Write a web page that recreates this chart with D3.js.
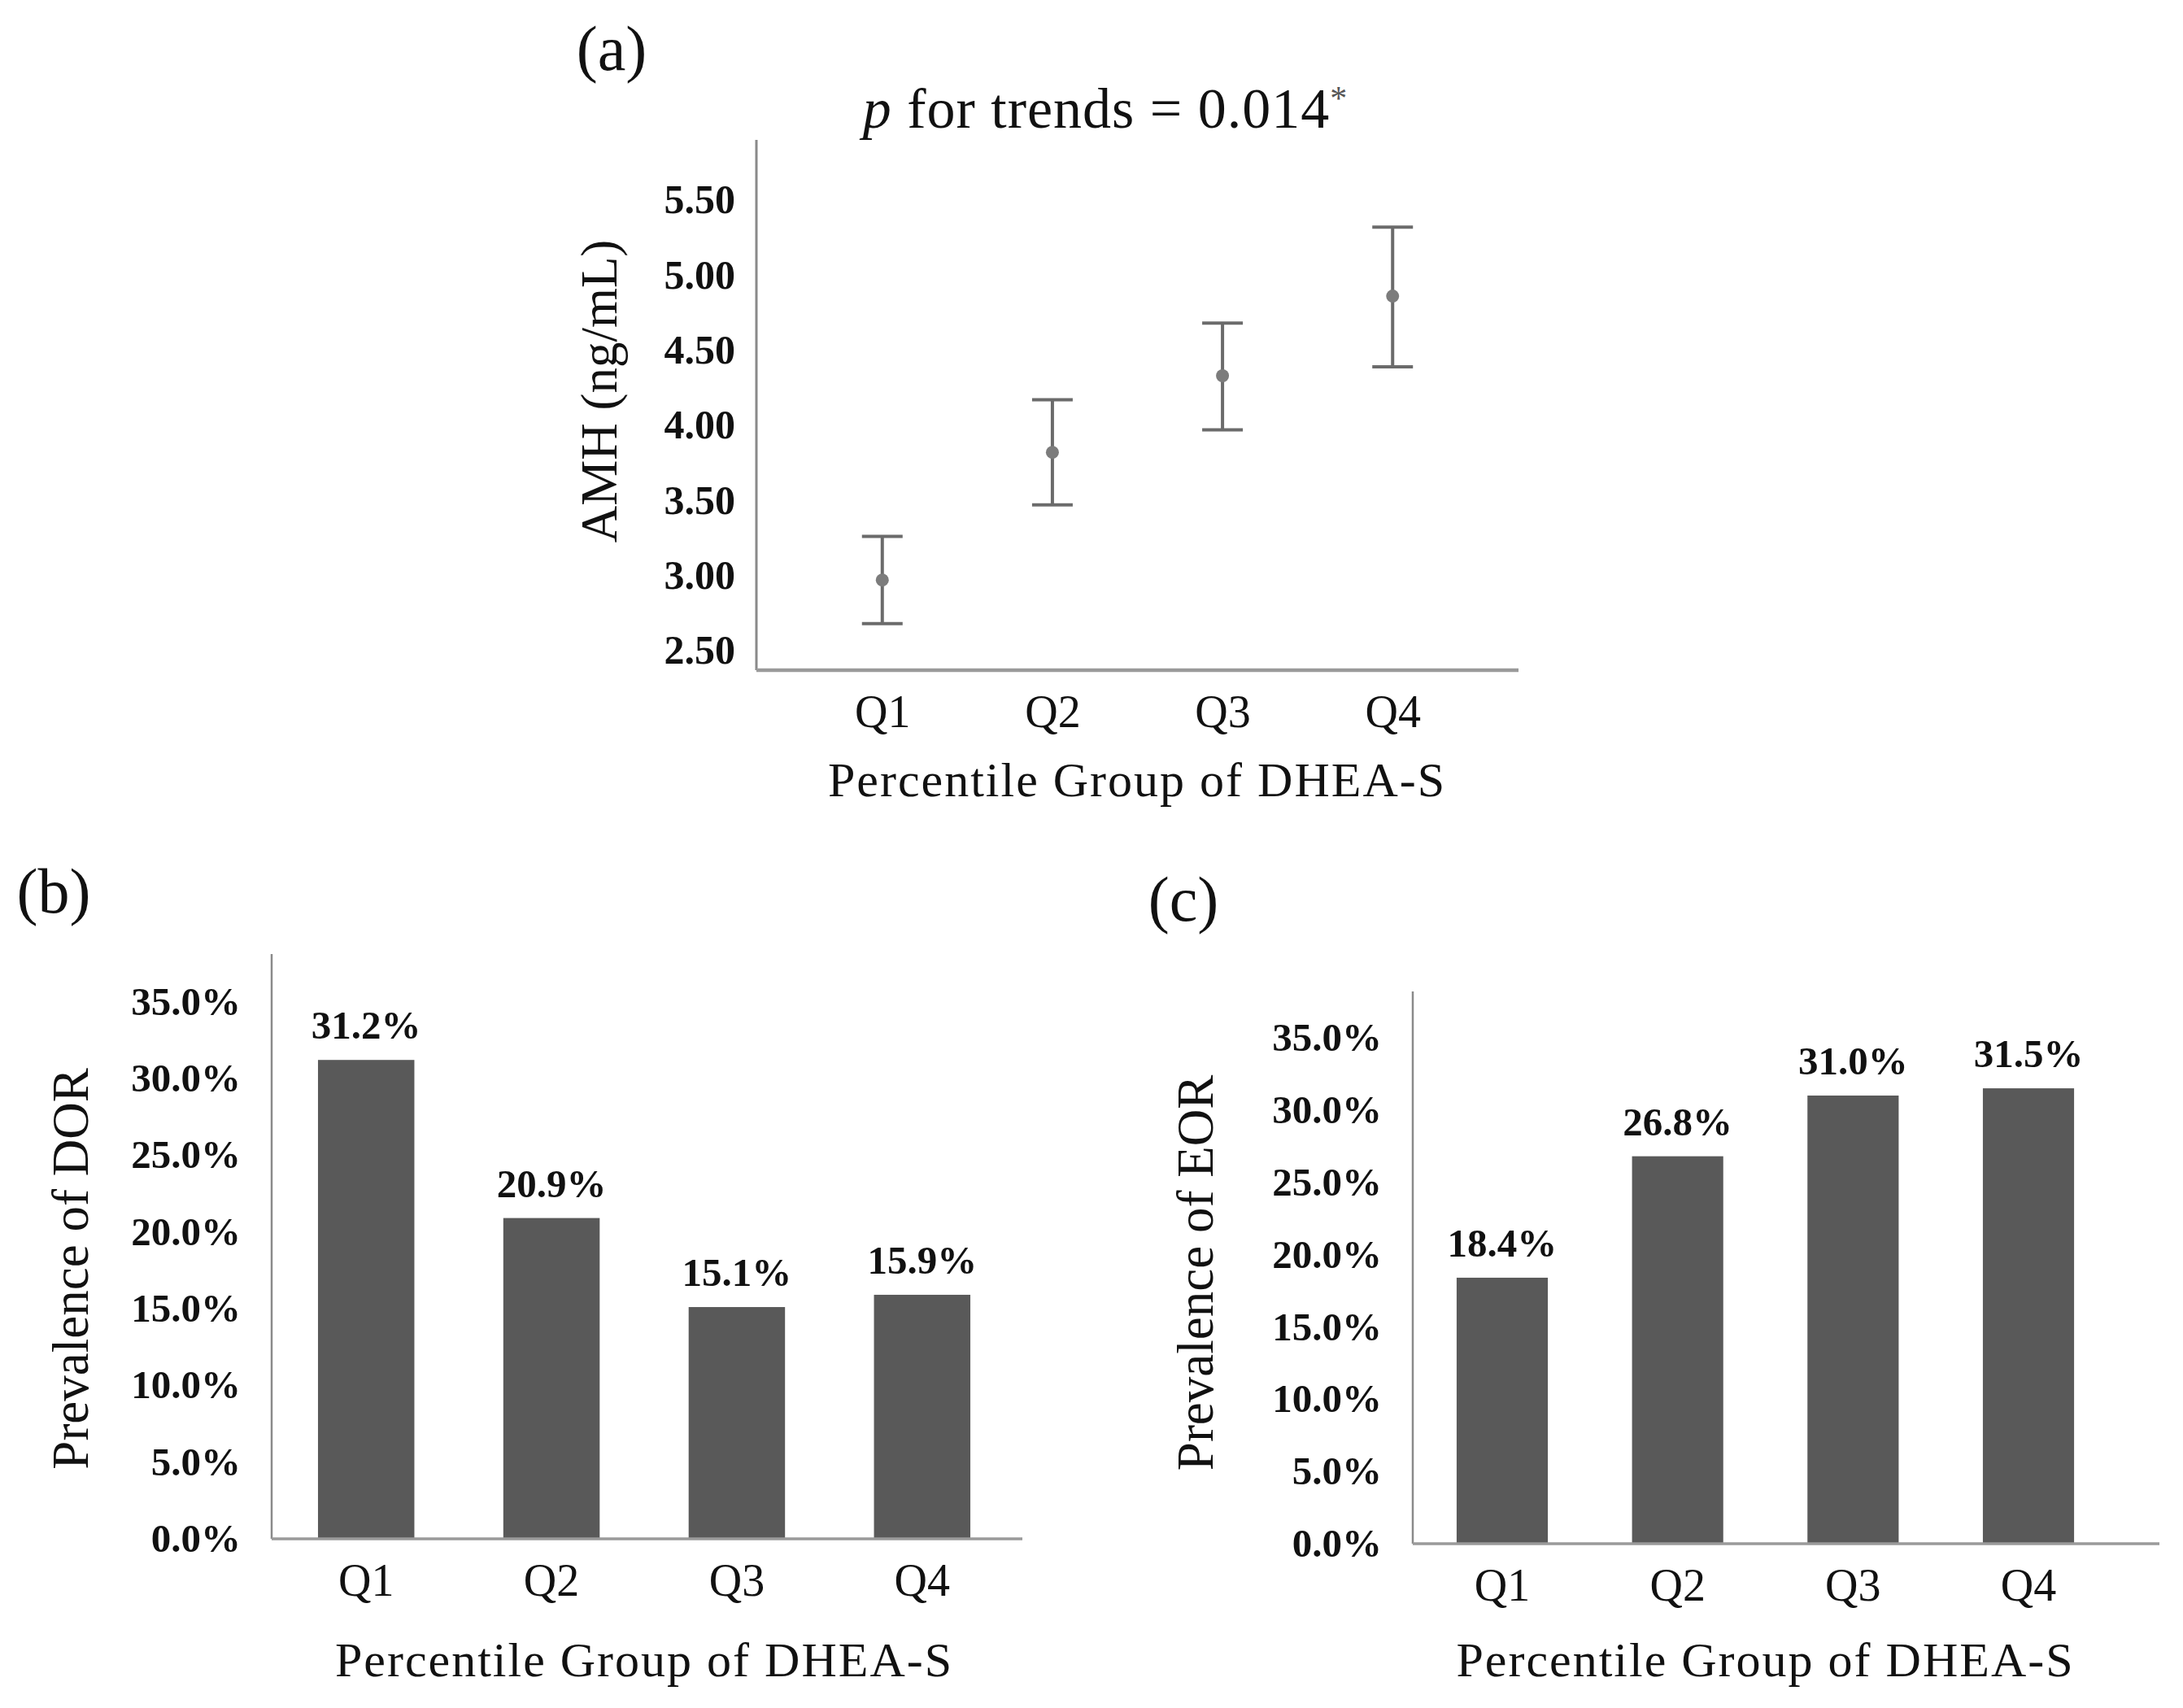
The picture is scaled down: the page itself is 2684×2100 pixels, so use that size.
<!DOCTYPE html>
<html>
<head>
<meta charset="utf-8">
<script src="https://cdn.jsdelivr.net/npm/d3@7"></script>
<style>
  body { margin: 0; background: #fff; }
  svg text { font-family: "Liberation Serif", "Times New Roman", serif; fill: #111; }
</style>
</head>
<body>
<svg id="fig" width="2684" height="2100"></svg>
<script>
/** chart data */
const groups = ["Q1", "Q2", "Q3", "Q4"];

// (a) AMH mean with error bars
const amhMean  = [2.97, 3.82, 4.33, 4.86];
const amhUpper = [3.26, 4.17, 4.68, 5.32];
const amhLower = [2.68, 3.47, 3.97, 4.39];
const amhTicks = [2.5, 3.0, 3.5, 4.0, 4.5, 5.0, 5.5];

// (b) DOR prevalence, (c) EOR prevalence (%)
const dorValues = [31.2, 20.9, 15.1, 15.9];
const eorValues = [18.4, 26.8, 31.0, 31.5];
const pctTicks = [0, 5, 10, 15, 20, 25, 30, 35];

const svg = d3.select('#fig');

/** helpers */
function drawLabel(x, y, txt, size, opts) {
    opts = opts || {};
    return svg.append('text')
        .attr('x', x).attr('y', y)
        .attr('text-anchor', opts.anchor || 'middle')
        .attr('transform', opts.rotate ? `rotate(-90, ${x}, ${y})` : null)
        .style('font-size', size + 'px')
        .style('font-weight', opts.bold ? 'bold' : 'normal')
        .style('letter-spacing', (opts.spacing || 0) + 'px')
        .text(txt);
}

function xTickLabels(scale, yPos) {
    let g = svg.append('g')
        .attr('transform', `translate(0, ${yPos})`)
        .call(d3.axisBottom(scale).tickSize(0).tickPadding(30));
    g.select('.domain').remove();
    g.selectAll('text')
        .style('font-size', '56px')
        .style('font-family', '"Liberation Serif", serif')
        .attr('fill', '#111');
}

function yTickLabels(scale, xPos, ticks, fmt, pad, size) {
    let g = svg.append('g')
        .attr('transform', `translate(${xPos}, 0)`)
        .call(d3.axisLeft(scale).tickValues(ticks).tickFormat(fmt).tickSize(0).tickPadding(pad));
    g.select('.domain').remove();
    g.selectAll('text')
        .style('font-size', size + 'px')
        .style('font-weight', 'bold')
        .style('font-family', '"Liberation Serif", serif')
        .attr('fill', '#111');
}

function axisLines(left, right, top, bottom, xw, yw) {
    svg.append('line')
        .attr('x1', left).attr('x2', left).attr('y1', top).attr('y2', bottom)
        .attr('stroke', '#8a8a8a').attr('stroke-width', yw);
    svg.append('line')
        .attr('x1', left).attr('x2', right).attr('y1', bottom).attr('y2', bottom)
        .attr('stroke', '#9a9a9a').attr('stroke-width', xw);
}

/* ---------------- (a) error bar chart ---------------- */
let a = { left: 930, right: 1867, top: 172, bottom: 824 };

let a_x = d3.scalePoint().domain(groups).range([a.left, a.right]).padding(0.74);
let a_y = d3.scaleLinear().domain([2.37, 5.9]).range([a.bottom, a.top]);

drawLabel(752, 86, '(a)', 78);

let title = svg.append('text')
    .attr('x', 1359).attr('y', 157)
    .attr('text-anchor', 'middle')
    .style('font-size', '70px')
    .style('letter-spacing', '1px');
title.append('tspan').style('font-style', 'italic').text('p');
title.append('tspan').text(' for trends = 0.014');
title.append('tspan').attr('dy', -22).style('font-size', '42px').attr('fill', '#555').text('*');

yTickLabels(a_y, a.left, amhTicks, d3.format('.2f'), 26, 50);
axisLines(a.left, a.right, a.top, a.bottom, 4.5, 3);
xTickLabels(a_x, a.bottom);

let a_data = groups.map((g, i) => ({ g: g, mean: amhMean[i], hi: amhUpper[i], lo: amhLower[i] }));
let capHalf = 25;

let eb = svg.append('g').selectAll('.eb').data(a_data).enter().append('g').attr('class', 'eb');
eb.append('line')
    .attr('x1', d => a_x(d.g)).attr('x2', d => a_x(d.g))
    .attr('y1', d => a_y(d.hi)).attr('y2', d => a_y(d.lo))
    .attr('stroke', '#6b6b6b').attr('stroke-width', 4);
eb.append('line')
    .attr('x1', d => a_x(d.g) - capHalf).attr('x2', d => a_x(d.g) + capHalf)
    .attr('y1', d => a_y(d.hi)).attr('y2', d => a_y(d.hi))
    .attr('stroke', '#6b6b6b').attr('stroke-width', 4);
eb.append('line')
    .attr('x1', d => a_x(d.g) - capHalf).attr('x2', d => a_x(d.g) + capHalf)
    .attr('y1', d => a_y(d.lo)).attr('y2', d => a_y(d.lo))
    .attr('stroke', '#6b6b6b').attr('stroke-width', 4);
eb.append('circle')
    .attr('cx', d => a_x(d.g)).attr('cy', d => a_y(d.mean))
    .attr('r', 8)
    .attr('fill', '#7c7c7c');

drawLabel(758, 481, 'AMH (ng/mL)', 63, { rotate: true });
drawLabel(1398, 979, 'Percentile Group of DHEA-S', 60, { spacing: 2 });

/* ---------------- (b) and (c) bar charts ---------------- */
function barPanel(p, values, tag, yTitle) {
    let xs = d3.scaleBand().domain(groups).range([p.left, p.bandRight])
        .paddingInner(0.48).paddingOuter(0.25);
    let ys = d3.scaleLinear().domain([0, p.max]).range([p.bottom, p.top]);

    drawLabel(p.tagX, p.tagY, tag, 78);

    yTickLabels(ys, p.left, pctTicks, d => d3.format('.1f')(d) + '%', 38, 49);

    let rows = groups.map((g, i) => ({ g: g, v: values[i] }));
    svg.append('g').selectAll('rect').data(rows).enter().append('rect')
        .attr('x', d => xs(d.g))
        .attr('y', d => ys(d.v))
        .attr('width', xs.bandwidth())
        .attr('height', d => ys(0) - ys(d.v))
        .attr('fill', '#595959');

    svg.append('g').selectAll('text').data(rows).enter().append('text')
        .attr('x', d => xs(d.g) + xs.bandwidth() / 2)
        .attr('y', d => ys(d.v) - 26)
        .attr('text-anchor', 'middle')
        .style('font-size', '49px')
        .style('font-weight', 'bold')
        .text(d => d3.format('.1f')(d.v) + '%');

    axisLines(p.left, p.right, p.top, p.bottom, 3.5, 2.5);
    xTickLabels(xs, p.bottom);

    drawLabel(p.yTitleX, p.yTitleY, yTitle, 63, { rotate: true });
    drawLabel((p.left + p.bandRight) / 2, 2061, 'Percentile Group of DHEA-S', 60, { spacing: 2 });
}

barPanel({ left: 334, right: 1257, bandRight: 1250, top: 1173, bottom: 1892, max: 38.1,
           tagX: 66, tagY: 1122, yTitleX: 108, yTitleY: 1560 },
         dorValues, '(b)', 'Prevalence of DOR');

barPanel({ left: 1737, right: 2655, bandRight: 2604, top: 1219, bottom: 1898, max: 38.2,
           tagX: 1455, tagY: 1132, yTitleX: 1491, yTitleY: 1565 },
         eorValues, '(c)', 'Prevalence of EOR');
</script>
</body>
</html>
